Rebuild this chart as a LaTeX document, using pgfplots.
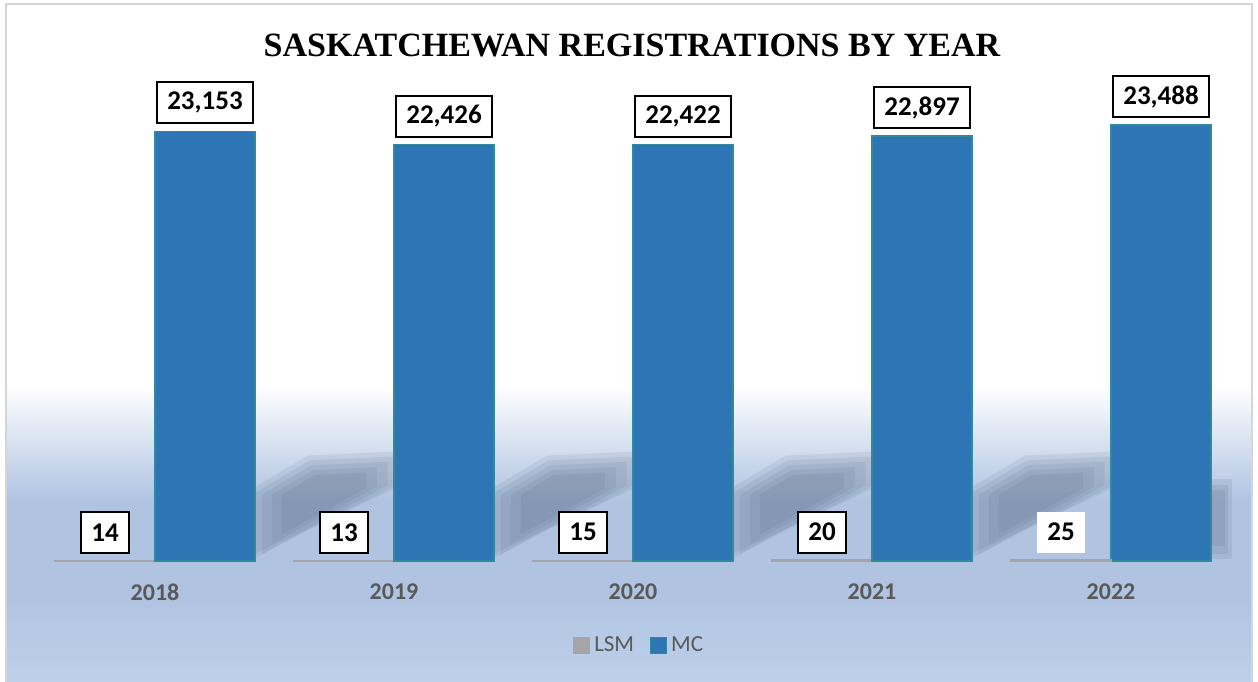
\documentclass[border=0pt]{standalone}
\usepackage{pgfplots}
\pgfplotsset{compat=1.18}
\usepackage{fontspec}
\setmainfont{Carlito}
\newfontfamily\timesfont{Liberation Serif}
\definecolor{mcblue}{HTML}{2E75B6}
\definecolor{mcedge}{HTML}{2F8A9E}
\definecolor{lsmgray}{HTML}{A5A5A5}
\definecolor{tickgray}{HTML}{595959}
\definecolor{bgblue}{RGB}{176,196,226}
\definecolor{bgblue2}{RGB}{190,208,234}
\definecolor{shadowc}{RGB}{80,95,120}
\definecolor{framec}{HTML}{D6D6D6}
\tikzset{labelbox/.style={draw=black, line width=1pt, fill=white, text=black,
    font=\bfseries\fontsize{13.5}{15}\selectfont, inner xsep=5.3pt,
    minimum height=20.5pt, anchor=south, yshift=3.5pt}}
% decorative soft shadow layer: #1 category, #2 scale about centroid (0.70,3600)
\newcommand\shadowlayer[2]{%
\pgfmathsetmacro\sxa{#1+0.70+#2*(0.418-0.70)}%
\pgfmathsetmacro\sxb{#1+0.70+#2*(0.649-0.70)}%
\pgfmathsetmacro\sxc{#1+0.70+#2*(1.004-0.70)}%
\pgfmathsetmacro\sya{max(60,3600+#2*(0-3600))}%
\pgfmathsetmacro\syb{3600+#2*(3554-3600)}%
\pgfmathsetmacro\syc{3600+#2*(5331-3600)}%
\pgfmathsetmacro\syd{3600+#2*(5547-3600)}%
\pgfmathsetmacro\sye{3600+#2*(4146-3600)}%
\addplot[sharp plot, forget plot, no markers, fill=shadowc, fill opacity=0.1, draw=none]
  coordinates {(\sxa,\sya) (\sxa,\syb) (\sxb,\syc) (\sxc,\syd) (\sxc,\sye)} -- cycle;}
\begin{document}
\begin{tikzpicture}
\useasboundingbox (0,0) rectangle (629pt,340.5pt);
\begin{scope}[x=0.5pt,y=-0.5pt,yshift=340.5pt]
  \fill[white] (0,0) rectangle (1258,681);
  \shade[top color=white, bottom color=bgblue] (7,385) rectangle (1251,500);
  \fill[bgblue] (7,499.5) rectangle (1251,600);
  \shade[top color=bgblue, bottom color=bgblue2] (7,599.5) rectangle (1251,681);
  \draw[framec, line width=1pt] (6,682)--(6,4)--(1252,4)--(1252,682);
  \node[font=\timesfont\bfseries\fontsize{17}{20}\selectfont] at (632,46) {SASKATCHEWAN REGISTRATIONS BY YEAR};
\end{scope}
\begin{axis}[
  at={(17.75pt,60pt)}, anchor=south west,
  scale only axis, width=597.5pt, height=232pt,
  xmin=-0.5, xmax=4.5, ymin=0, ymax=25000,
  clip=false,
  axis line style={draw=none}, tick style={draw=none},
  ytick=\empty,
  xtick={0,1,2,3,4}, xticklabels={2018,2019,2020,2021,2022},
  xticklabel style={font=\bfseries\fontsize{12}{14}\selectfont, text=tickgray, yshift=-8pt},
  /pgf/number format/1000 sep={,},
  /pgf/number format/assume math mode=true,
  legend style={at={(0.506,-0.183)}, anchor=center, draw=none, fill=none,
    legend columns=2, font=\fontsize{11.5}{13}\selectfont, text=tickgray,
    /tikz/every even column/.append style={column sep=6pt}},
  legend image code/.code={\draw[#1, line width=0.5pt] (0pt,-4pt) rectangle (8pt,4pt);},
]
% decorative shadows behind the bars
\shadowlayer{0}{1.2}\shadowlayer{0}{1.05}\shadowlayer{0}{0.9}\shadowlayer{0}{0.75}\shadowlayer{0}{0.6}
\shadowlayer{1}{1.2}\shadowlayer{1}{1.05}\shadowlayer{1}{0.9}\shadowlayer{1}{0.75}\shadowlayer{1}{0.6}
\shadowlayer{2}{1.2}\shadowlayer{2}{1.05}\shadowlayer{2}{0.9}\shadowlayer{2}{0.75}\shadowlayer{2}{0.6}
\shadowlayer{3}{1.2}\shadowlayer{3}{1.05}\shadowlayer{3}{0.9}\shadowlayer{3}{0.75}\shadowlayer{3}{0.6}
\addplot[sharp plot, forget plot, no markers, fill=shadowc, fill opacity=0.12, draw=none]
  coordinates {(4.42,100) (4.42,4400) (4.505,4400) (4.505,100)} -- cycle;
\addplot[sharp plot, forget plot, no markers, fill=shadowc, fill opacity=0.12, draw=none]
  coordinates {(4.42,400) (4.42,4100) (4.49,4100) (4.49,400)} -- cycle;
\addplot[sharp plot, forget plot, no markers, fill=shadowc, fill opacity=0.12, draw=none]
  coordinates {(4.42,800) (4.42,3800) (4.475,3800) (4.475,800)} -- cycle;
% LSM
\addplot[ybar, bar width=0.418, bar shift=-0.209, fill=lsmgray, draw=lsmgray, line width=1.2pt,
  nodes near coords, nodes near coords style={labelbox, xshift=-25pt}]
  coordinates {(0,14) (1,13) (2,15) (3,20)};
\addlegendentry{LSM}
% MC
\addplot[ybar, bar width=0.418, bar shift=0.209, fill=mcblue, draw=mcedge, line width=0.6pt,
  nodes near coords, nodes near coords style={labelbox, xshift=25pt}]
  coordinates {(0,23153) (1,22426) (2,22422) (3,22897) (4,23488)};
\addlegendentry{MC}
\addplot[ybar, forget plot, bar width=0.418, bar shift=-0.209, fill=lsmgray, draw=lsmgray, line width=1.2pt,
  nodes near coords, nodes near coords style={labelbox, draw=none, xshift=-25pt}]
  coordinates {(4,25)};
\end{axis}
\end{tikzpicture}
\end{document}
